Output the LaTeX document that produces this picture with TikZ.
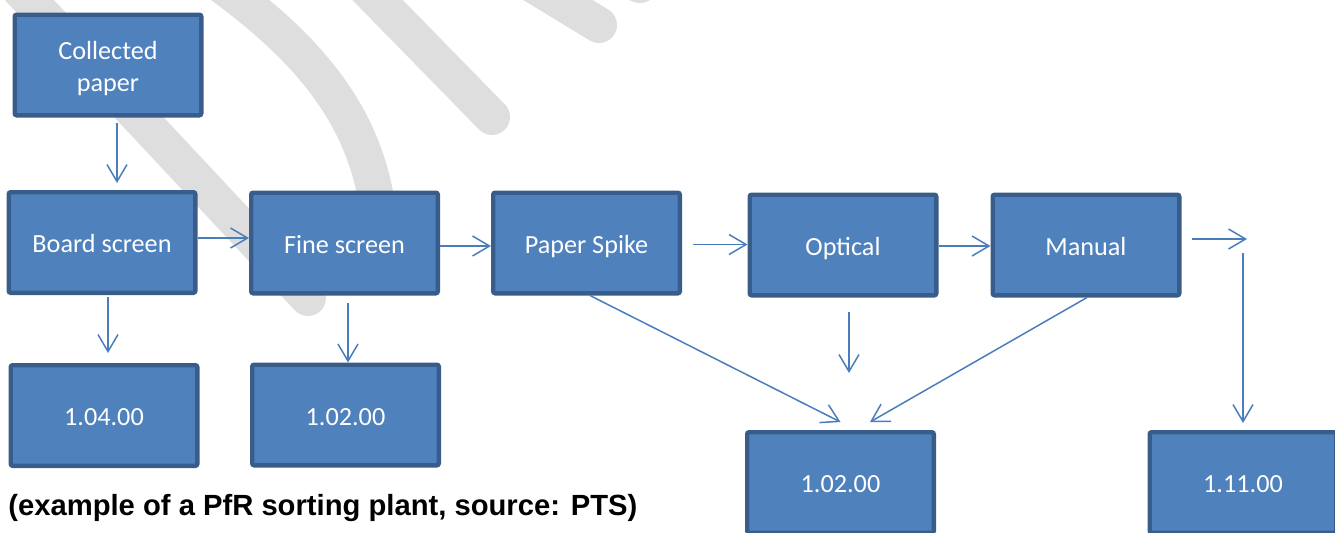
\documentclass[tikz,border=0pt]{standalone}
\usepackage{fontspec}
\setmainfont{Carlito}
\newfontfamily\captionfont{Liberation Sans}
\usetikzlibrary{arrows.meta}
\definecolor{boxfill}{HTML}{4F81BD}
\definecolor{boxline}{HTML}{385D8A}
\definecolor{flowline}{HTML}{4A7EBB}
\definecolor{wmgray}{HTML}{DEDEDE}

\begin{document}
\begin{tikzpicture}[x=0.5pt,y=-0.5pt,
  stage/.style={draw=boxline,fill=boxfill,line width=2.2pt,rounded corners=1pt,
    minimum width=93.3pt,minimum height=50.3pt,inner sep=0pt,text height=10pt,text depth=0pt,
    text=white,font=\fontsize{13.1}{16}\selectfont,align=center},
  flow/.style={draw=flowline,line width=0.75pt,-{Straight Barb[length=8.5pt,width=10pt]}},
  band/.style={draw=wmgray,line width=18pt,line cap=round}]
\clip (0,0) rectangle (1335,532);

% watermark in the back
\draw[band] (20,-10) -- (308,298);
\draw[band] (200,-30) .. controls (300,40) and (385,120) .. (380,260);
\draw[band] (360,-18) -- (492,117);
\draw[band] (520,-23) -- (599,25);
\draw[band] (600,-30) -- (640,-15);

% stages
\node[stage,text height=26pt] (paper) at (108,65) {Collected\\paper};
\node[stage] (board) at (102,242.5) {Board screen};
\node[stage] (fine) at (344.5,243) {Fine screen};
\node[stage] (spike) at (586.5,243) {Paper Spike};
\node[stage] (optical) at (843,245) {Optical};
\node[stage] (manual) at (1086,245) {Manual};

% outputs
\node[stage] (outA) at (104,415.5) {1.04.00};
\node[stage] (outB) at (345.5,415) {1.02.00};
\node[stage] (outC) at (840.5,482.5) {1.02.00};
\node[stage] (outD) at (1243,482.5) {1.11.00};

% loose ends
\coordinate (turn) at (1247,239);
\coordinate (drop) at (1243,253);
\coordinate (optEnd) at (849,373);

% main line
\draw[flow,shorten <=2.75pt,shorten >=3.5pt] ([xshift=4.5pt]paper.south) -- ([xshift=7.5pt]board.north);
\draw[flow] ([yshift=2.25pt]board.east) -- ([yshift=2.5pt]fine.west);
\draw[flow] ([yshift=-1.5pt]fine.east) -- ([yshift=-1.5pt]spike.west);
\draw[flow,shorten <=5.5pt] ([yshift=-0.75pt]spike.east) -- ([yshift=0.25pt]optical.west);
\draw[flow] ([yshift=-0.5pt]optical.east) -- ([yshift=-0.5pt]manual.west);
\draw[flow,shorten <=5.25pt] ([yshift=3pt]manual.east) -- (turn);
\draw[flow,shorten >=3.5pt] (drop) -- (outD.north);

% rejects
\draw[flow,shorten <=1pt,shorten >=5pt] ([xshift=3pt]board.south) -- ([xshift=2pt]outA.north);
\draw[flow,shorten <=3.75pt] ([xshift=1.75pt]fine.south) -- ([xshift=1.25pt]outB.north);
\draw[flow] ([xshift=1.75pt]spike.south) -- ([yshift=4pt]outC.north);
\draw[flow,shorten <=7.25pt] ([xshift=3pt]optical.south) -- (optEnd);
\draw[flow] ([xshift=0.5pt]manual.south) -- ([xshift=14.75pt,yshift=4pt]outC.north);

\node[anchor=base west,inner sep=0pt,font=\captionfont\bfseries\fontsize{14.6}{17}\selectfont] (caption) at (8,515) {(example of a PfR sorting plant, source: PTS)};
\end{tikzpicture}
\end{document}
